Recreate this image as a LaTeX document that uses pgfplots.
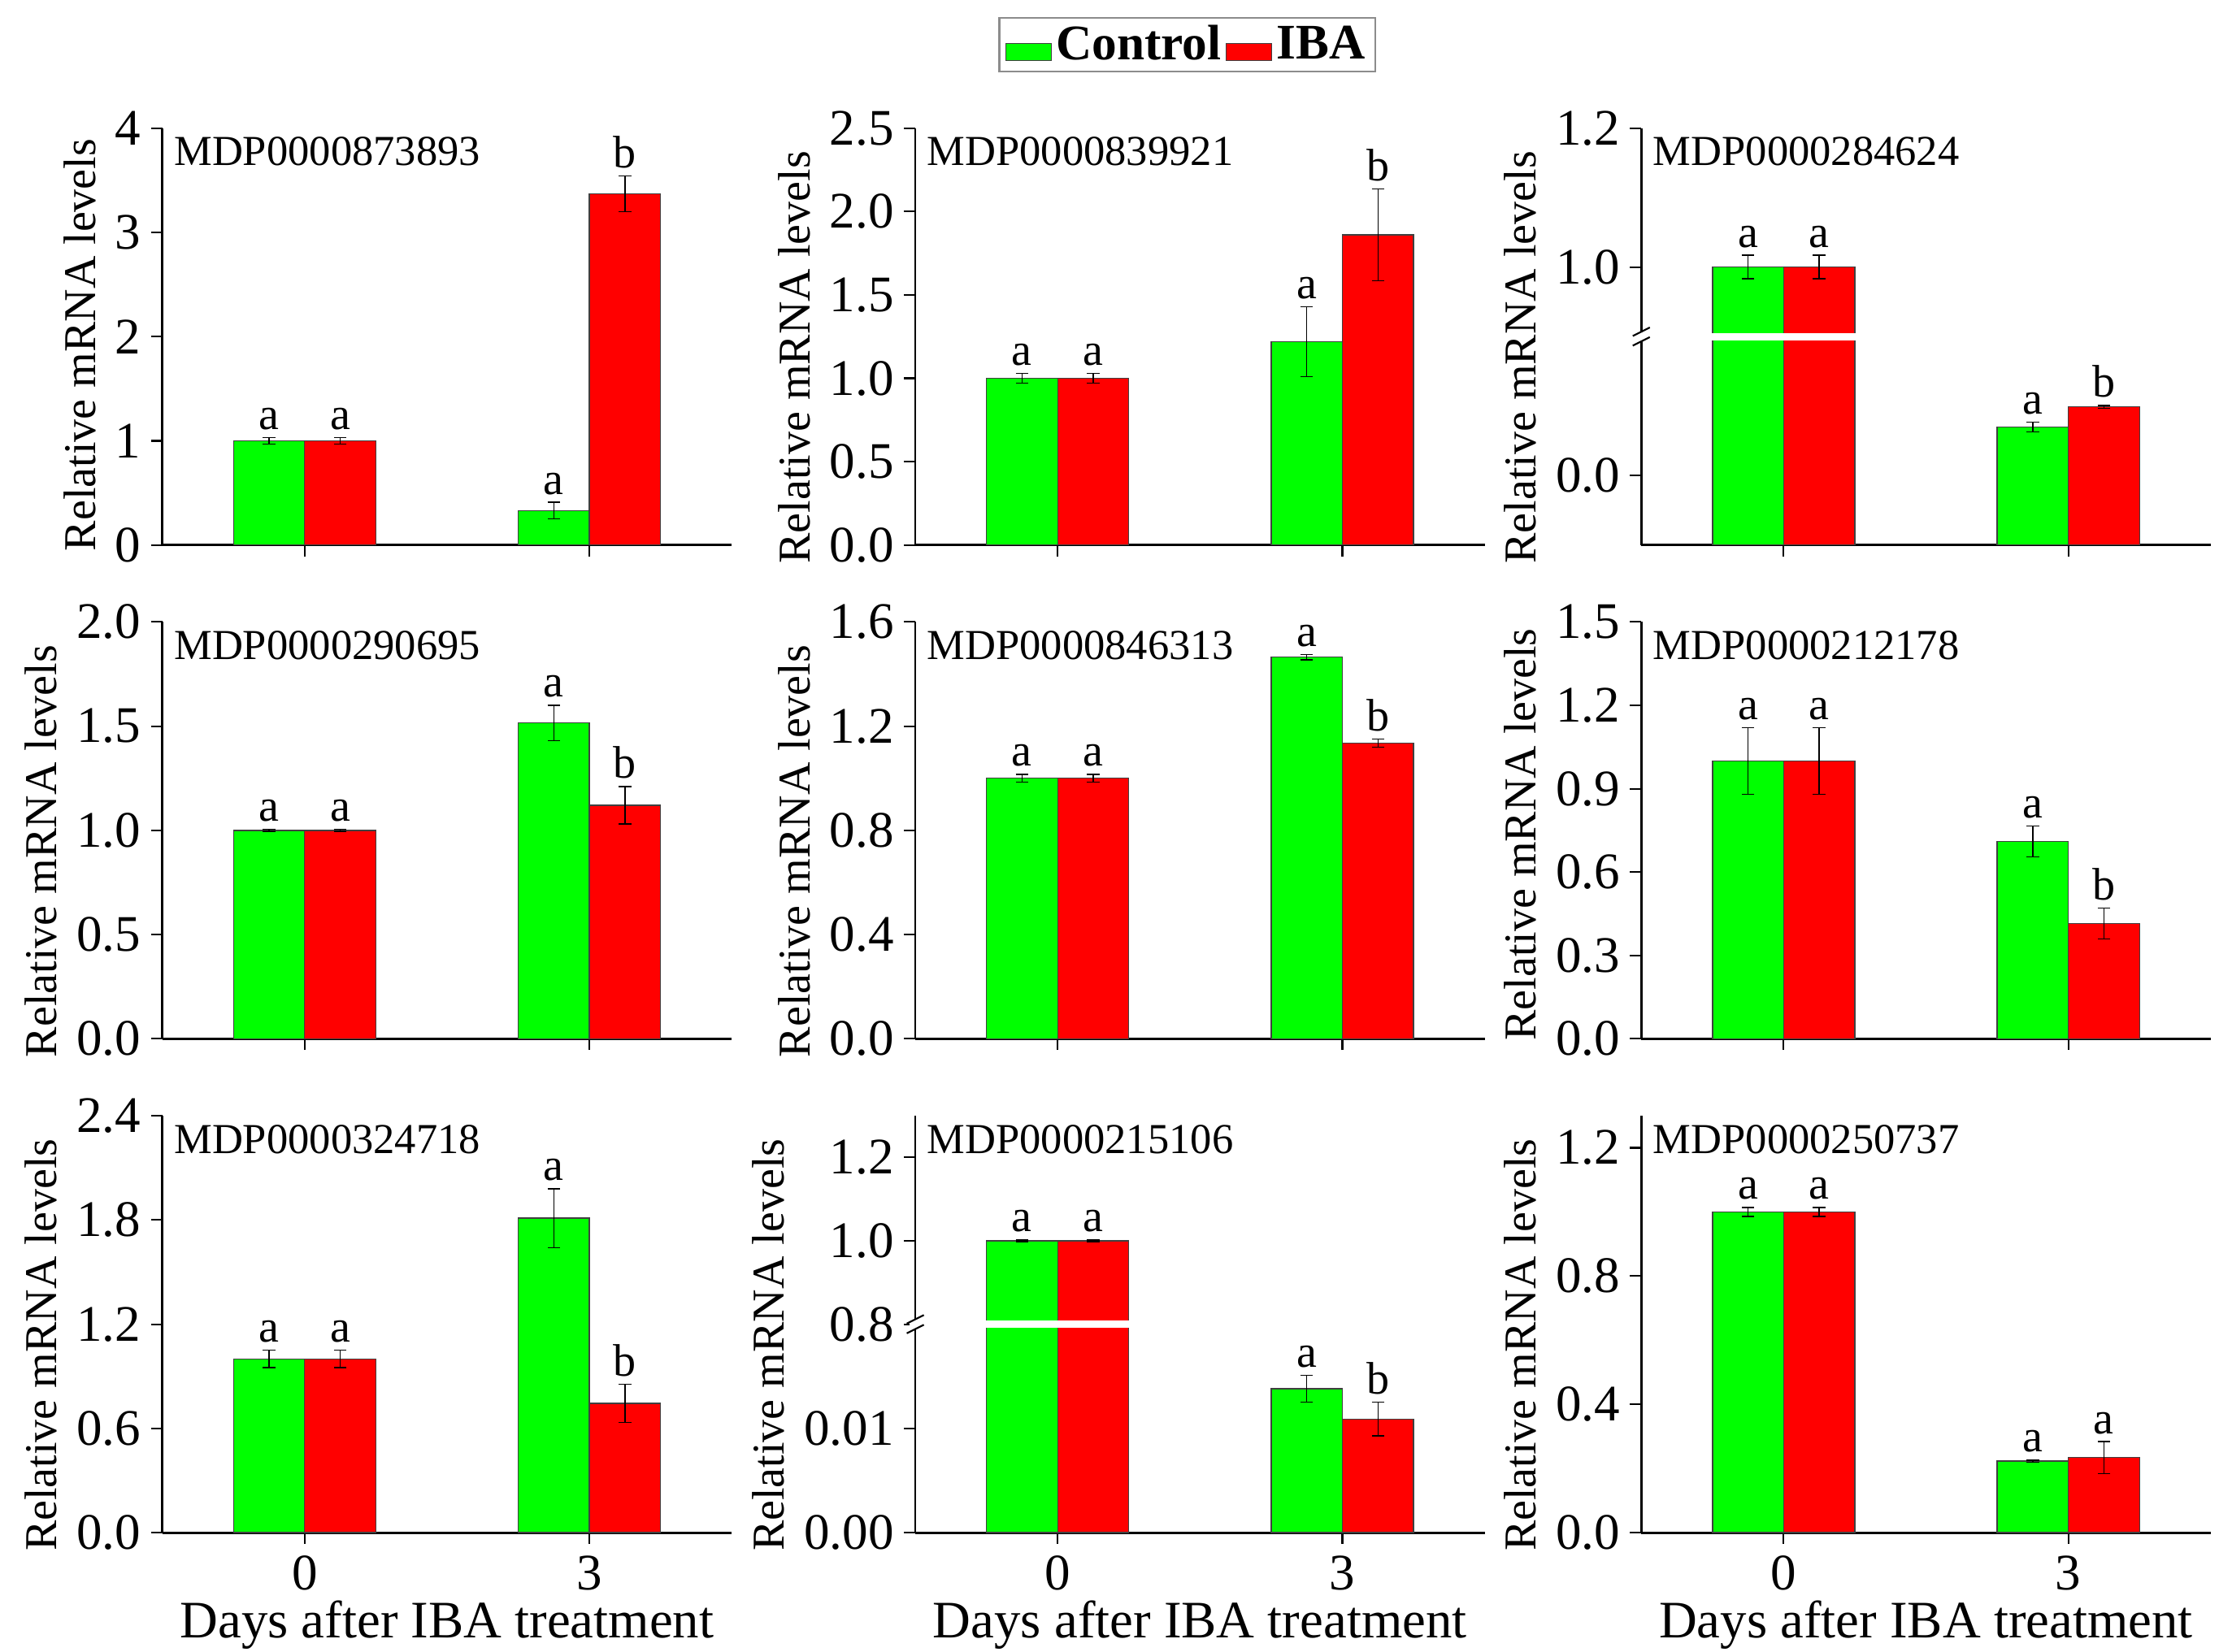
\documentclass[border=0pt]{standalone}
\usepackage{pgfplots}
\pgfplotsset{compat=1.18}
\usepackage{fontspec}
\setmainfont{Liberation Serif}
\definecolor{cgreen}{RGB}{0,255,0}
\definecolor{cred}{RGB}{255,0,0}
\pgfplotsset{
  panel/.style={
    scale only axis, width=200pt, height=146.5pt,
    anchor=south west, clip=false,
    axis x line*=bottom, axis y line*=left,
    axis line style={line width=0.8pt, -, black},
    xmin=-0.5, xmax=1.5, xtick={0,1},
    tick align=outside, major tick length=4pt,
    tick style={line width=0.6pt, black},
    ybar=0pt, bar width=25pt,
    ylabel={Relative mRNA levels},
    ylabel style={font=\fontsize{16}{18}\selectfont, at={(ticklabel cs:0.45)}},
    xlabel style={font=\fontsize{18.5}{20}\selectfont, inner sep=0pt, yshift=-2.5pt},
    tick label style={font=\fontsize{18}{20}\selectfont},
    xticklabel style={inner ysep=1pt, yshift=-3pt},
    /pgf/number format/.cd, fixed, fixed zerofill, precision=1, assume math mode=true,
  },
  ctrl/.style={fill=cgreen, draw=black!75, line width=0.4pt,
    error bars/.cd, y dir=both, y explicit,
    error bar style={line width=0.4pt, black},
    error mark options={rotate=90, mark size=2.2pt, line width=0.4pt, black}},
  iba/.style={fill=cred, draw=black!75, line width=0.4pt,
    error bars/.cd, y dir=both, y explicit,
    error bar style={line width=0.4pt, black},
    error mark options={rotate=90, mark size=2.2pt, line width=0.4pt, black}},
}
\newcommand\ttl[1]{\node[anchor=north west,inner sep=0pt,xshift=4pt,yshift=-3pt,font=\fontsize{15}{17}\selectfont] at (rel axis cs:0,1) {#1};}
\newcommand\lab[3]{\node[anchor=south,inner sep=0pt,yshift=2.5pt,font=\fontsize{16}{18}\selectfont] at (axis cs:#1,#2) {#3};}
\newcommand\brk{%
  \draw[white, line width=2.5pt] (rel axis cs:0.12,0.5) -- (rel axis cs:0.38,0.5);
  \fill[white] (rel axis cs:0,0.5) ++(-2pt,-1.6pt) rectangle ++(4pt,3.2pt);
  \draw[line width=0.6pt] (rel axis cs:0,0.5) ++(-3pt,-3.2pt) -- ++(6pt,3pt);
  \draw[line width=0.6pt] (rel axis cs:0,0.5) ++(-3pt,0.2pt) -- ++(6pt,3pt);}
\begin{document}
\begin{tikzpicture}
\path (0,0) rectangle (784pt,-580.4pt);
% ---------- Row 1 ----------
\begin{axis}[panel, at={(57pt,-191.5pt)}, ymin=0, ymax=4, ytick={0,1,2,3,4},
  yticklabel style={/pgf/number format/precision=0}, xticklabels={},
  ylabel style={at={(ticklabel cs:0.48)}}]
\addplot[ctrl] coordinates {(0,1.0) +- (0,0.03) (1,0.33) +- (0,0.08)};
\addplot[iba] coordinates {(0,1.0) +- (0,0.03) (1,3.37) +- (0,0.17)};
\ttl{MDP0000873893}
\lab{-0.125}{1.03}{a}\lab{0.125}{1.03}{a}\lab{0.875}{0.41}{a}\lab{1.125}{3.54}{b}
\end{axis}
\begin{axis}[panel, at={(321.5pt,-191.5pt)}, ymin=0, ymax=2.5, ytick={0,0.5,1,1.5,2,2.5}, xticklabels={},
  legend style={at={(0.4775,1.2)}, anchor=center, legend columns=2, draw=black!45, line width=0.6pt,
    inner xsep=2pt, inner ysep=1.5pt, font=\bfseries\fontsize{17.5}{19}\selectfont,
    nodes={inner xsep=1.5pt, inner ysep=1pt}},
  legend image code/.code={\draw[#1] (0pt,-5.5pt) rectangle (16pt,0.5pt);}]
\addplot[ctrl] coordinates {(0,1.0) +- (0,0.028) (1,1.22) +- (0,0.21)};
\addplot[iba] coordinates {(0,1.0) +- (0,0.028) (1,1.86) +- (0,0.275)};
\legend{Control,IBA}
\ttl{MDP0000839921}
\lab{-0.125}{1.028}{a}\lab{0.125}{1.028}{a}\lab{0.875}{1.43}{a}\lab{1.125}{2.135}{b}
\end{axis}
\begin{axis}[panel, at={(576.5pt,-191.5pt)},
  y coord trafo/.code={\pgfmathparse{#1<0.55?#1+0.1:#1-0.6}},
  ymin=-0.1, ymax=1.2, ytick={0,1,1.2}, yticklabels={0.0,1.0,1.2}, xticklabels={}]
\addplot[ctrl] coordinates {(0,1.0) +- (0,0.017) (1,0.070) +- (0,0.007)};
\addplot[iba] coordinates {(0,1.0) +- (0,0.017) (1,0.099) +- (0,0.002)};
\brk
\ttl{MDP0000284624}
\lab{-0.125}{1.017}{a}\lab{0.125}{1.017}{a}\lab{0.875}{0.077}{a}\lab{1.125}{0.101}{b}
\end{axis}
% ---------- Row 2 ----------
\begin{axis}[panel, at={(57pt,-365pt)}, ymin=0, ymax=2, ytick={0,0.5,1,1.5,2}, xticklabels={}]
\addplot[ctrl] coordinates {(0,1.0) +- (0,0.005) (1,1.515) +- (0,0.085)};
\addplot[iba] coordinates {(0,1.0) +- (0,0.005) (1,1.12) +- (0,0.09)};
\ttl{MDP0000290695}
\lab{-0.125}{1.005}{a}\lab{0.125}{1.005}{a}\lab{0.875}{1.6}{a}\lab{1.125}{1.21}{b}
\end{axis}
\begin{axis}[panel, at={(321.5pt,-365pt)}, ymin=0, ymax=1.6, ytick={0,0.4,0.8,1.2,1.6}, xticklabels={}]
\addplot[ctrl] coordinates {(0,1.0) +- (0,0.015) (1,1.465) +- (0,0.01)};
\addplot[iba] coordinates {(0,1.0) +- (0,0.015) (1,1.135) +- (0,0.015)};
\ttl{MDP0000846313}
\lab{-0.125}{1.015}{a}\lab{0.125}{1.015}{a}\lab{0.875}{1.475}{a}\lab{1.125}{1.15}{b}
\end{axis}
\begin{axis}[panel, at={(576.5pt,-365pt)}, ymin=0, ymax=1.5, ytick={0,0.3,0.6,0.9,1.2,1.5}, xticklabels={},
  ylabel style={at={(ticklabel cs:0.49)}}]
\addplot[ctrl] coordinates {(0,1.0) +- (0,0.12) (1,0.71) +- (0,0.055)};
\addplot[iba] coordinates {(0,1.0) +- (0,0.12) (1,0.415) +- (0,0.055)};
\ttl{MDP0000212178}
\lab{-0.125}{1.12}{a}\lab{0.125}{1.12}{a}\lab{0.875}{0.765}{a}\lab{1.125}{0.47}{b}
\end{axis}
% ---------- Row 3 ----------
\begin{axis}[panel, at={(57pt,-538.5pt)}, ymin=0, ymax=2.4, ytick={0,0.6,1.2,1.8,2.4},
  xticklabels={0,3}, xlabel={Days after IBA treatment}]
\addplot[ctrl] coordinates {(0,1.0) +- (0,0.05) (1,1.81) +- (0,0.17)};
\addplot[iba] coordinates {(0,1.0) +- (0,0.05) (1,0.745) +- (0,0.11)};
\ttl{MDP0000324718}
\lab{-0.125}{1.05}{a}\lab{0.125}{1.05}{a}\lab{0.875}{1.98}{a}\lab{1.125}{0.855}{b}
\end{axis}
% lower segment 0--0.02 is stretched 25x; its errors (0.0013, 0.0016) are given in that stretched unit
\begin{axis}[panel, at={(321.5pt,-538.5pt)},
  y coord trafo/.code={\pgfmathparse{#1<0.5?25*#1:#1-0.3}},
  ymin=0, ymax=1.3, ytick={0,0.01,0.8,1.0,1.2}, yticklabels={0.00,0.01,0.8,1.0,1.2},
  xticklabels={0,3}, xlabel={Days after IBA treatment}]
\addplot[ctrl] coordinates {(0,1.0) +- (0,0.002) (1,0.0138) +- (0,0.0325)};
\addplot[iba] coordinates {(0,1.0) +- (0,0.002) (1,0.0109) +- (0,0.04)};
\brk
\ttl{MDP0000215106}
\lab{-0.125}{1.002}{a}\lab{0.125}{1.002}{a}\lab{0.875}{0.0151}{a}\lab{1.125}{0.0125}{b}
\end{axis}
\begin{axis}[panel, at={(576.5pt,-538.5pt)}, ymin=0, ymax=1.3, ytick={0,0.4,0.8,1.2},
  xticklabels={0,3}, xlabel={Days after IBA treatment}]
\addplot[ctrl] coordinates {(0,1.0) +- (0,0.014) (1,0.223) +- (0,0.003)};
\addplot[iba] coordinates {(0,1.0) +- (0,0.014) (1,0.234) +- (0,0.05)};
\ttl{MDP0000250737}
\lab{-0.125}{1.014}{a}\lab{0.125}{1.014}{a}\lab{0.875}{0.226}{a}\lab{1.125}{0.284}{a}
\end{axis}
\end{tikzpicture}
\end{document}
